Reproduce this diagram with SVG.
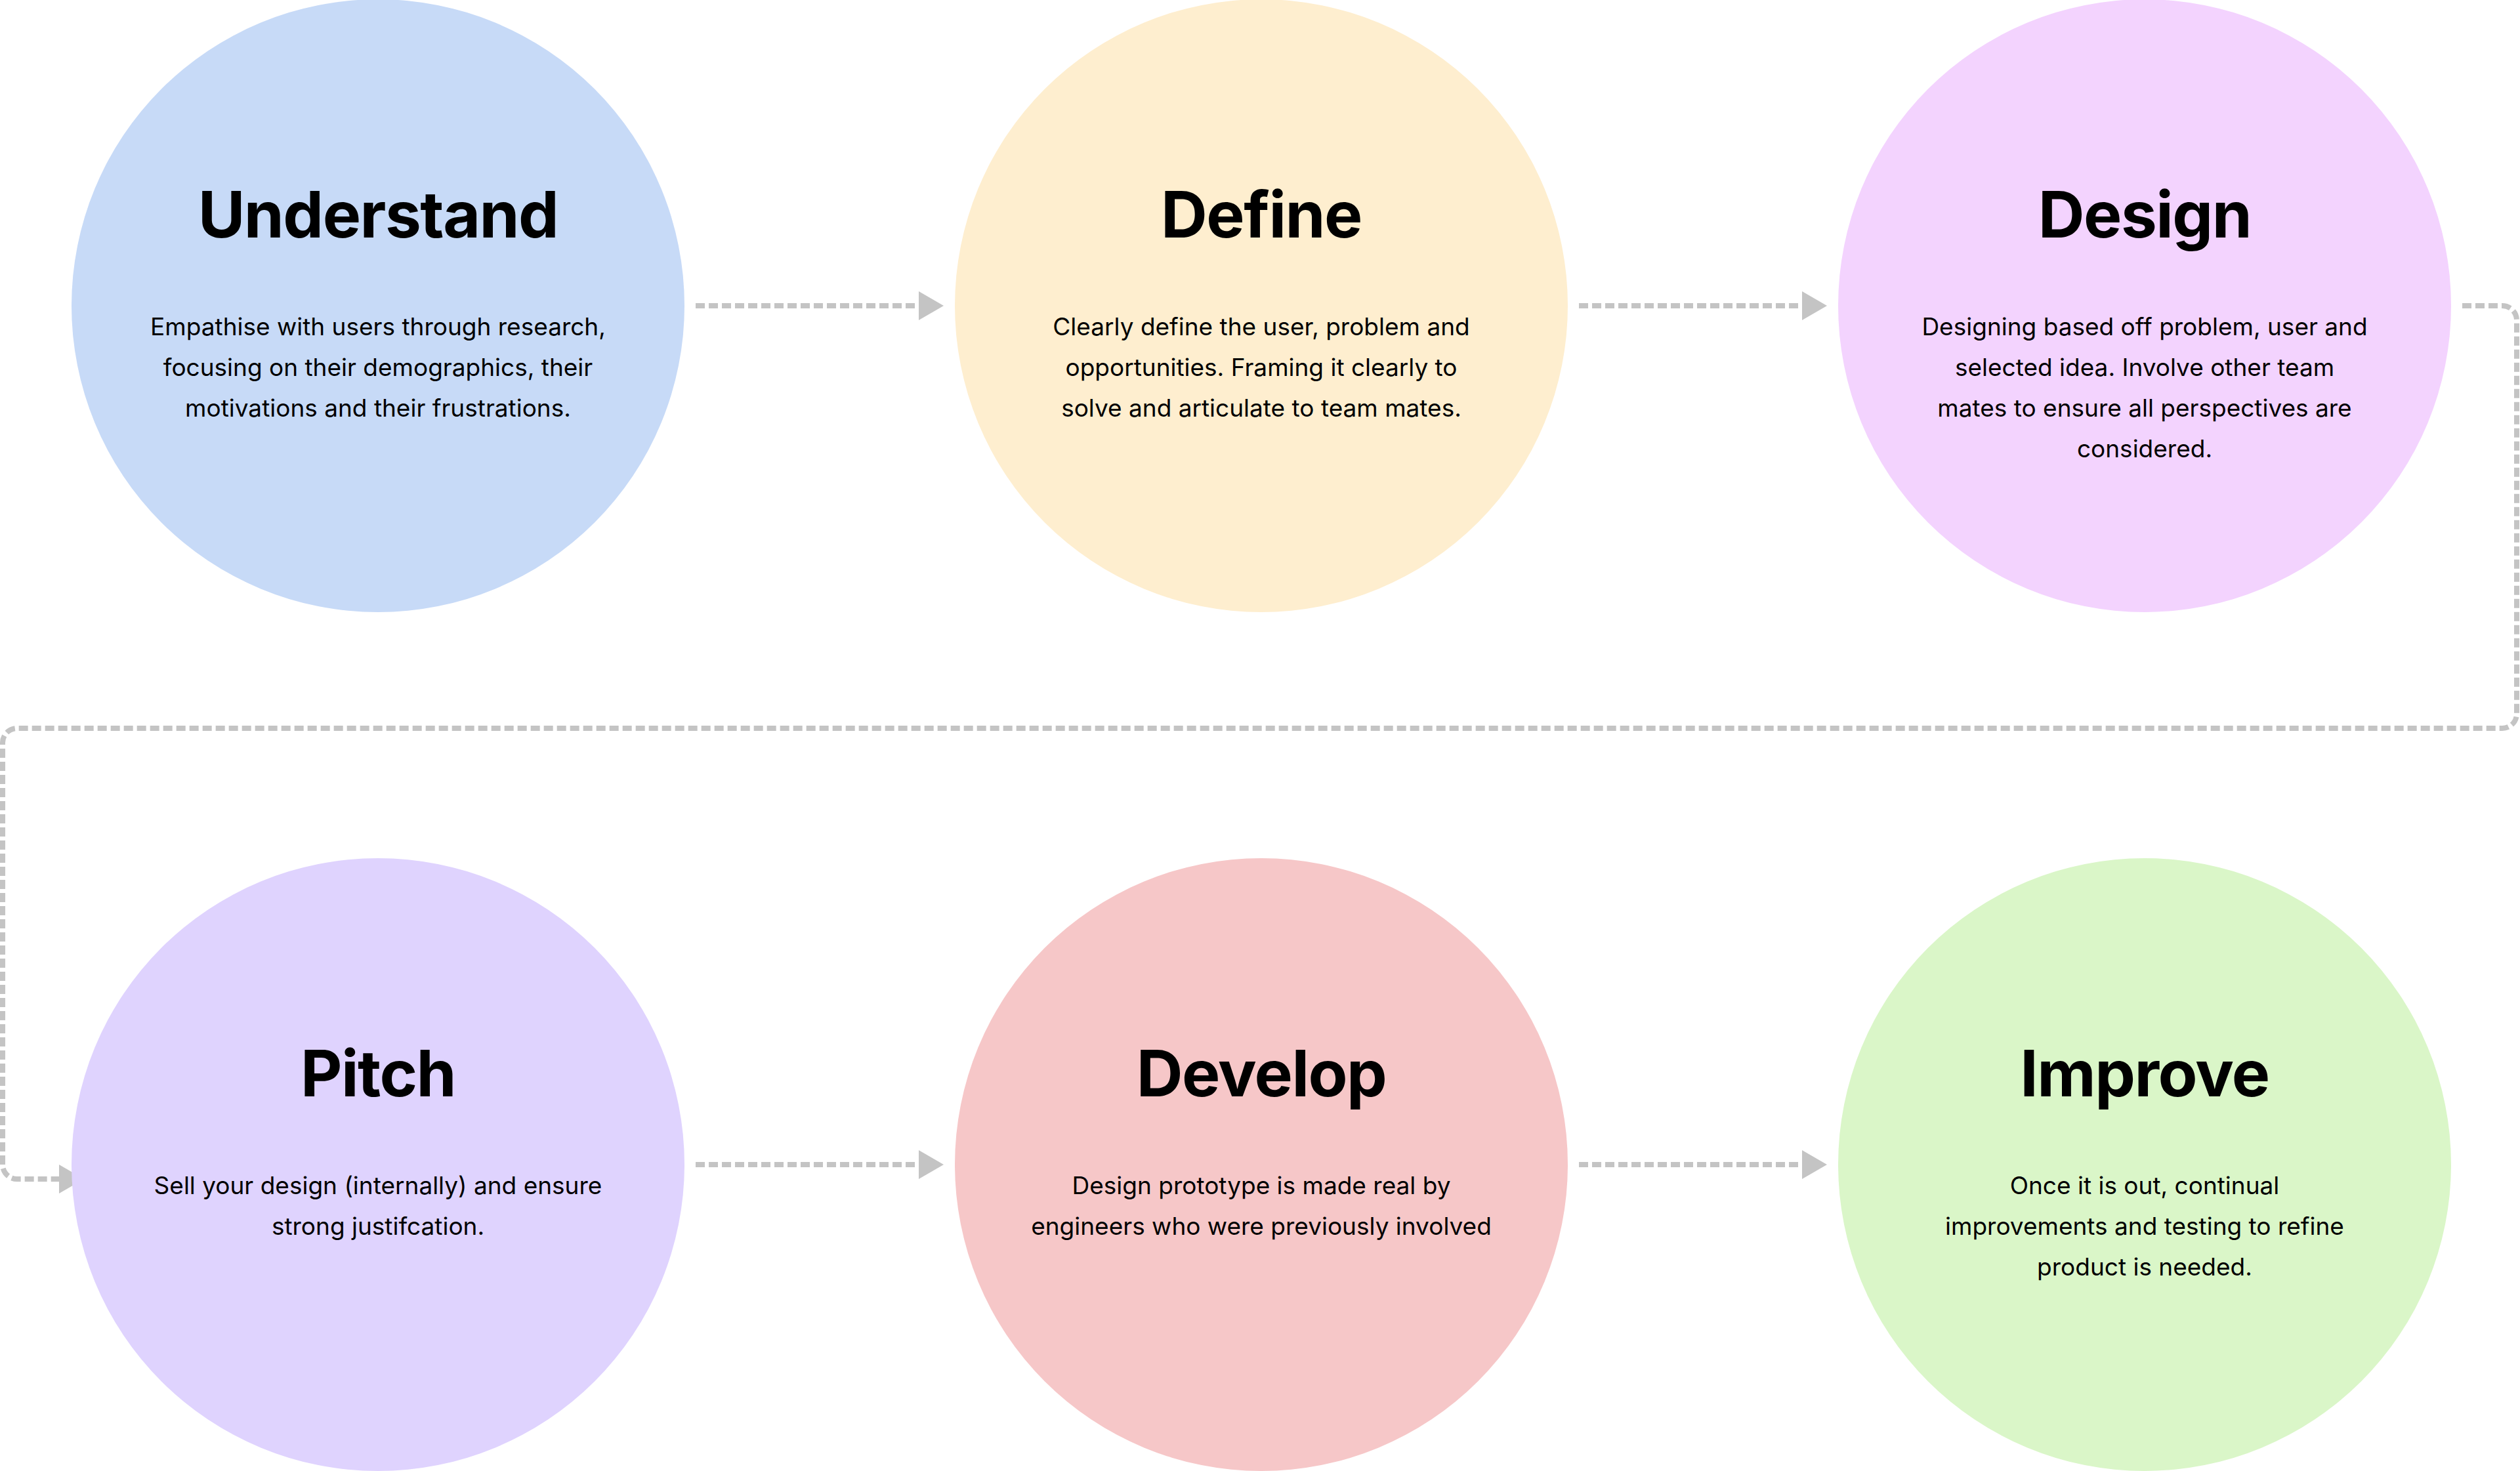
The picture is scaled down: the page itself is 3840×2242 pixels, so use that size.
<svg xmlns="http://www.w3.org/2000/svg" width="3840" height="2242" viewBox="0 0 3840 2242">
<style>
.title{font-family:Inter,"Liberation Sans",sans-serif;font-weight:700;font-size:98px;fill:#000;text-anchor:middle;letter-spacing:-1.5px}
.body{font-family:Inter,"Liberation Sans",sans-serif;font-weight:400;font-size:37px;fill:#000;text-anchor:middle}
.conn{fill:none;stroke:#C4C4C4;stroke-width:8;stroke-dasharray:14 6}
</style>
<defs>
<marker id="arrow" markerUnits="userSpaceOnUse" markerWidth="38" markerHeight="44" refX="0" refY="22" orient="auto">
<path d="M0 0 L38 22 L0 44 Z" fill="#C4C4C4"/>
</marker>
</defs>
<rect width="3840" height="2242" fill="#FFFFFF"/>
<g id="connectors">
<path class="conn" d="M1060 466 H1400" marker-end="url(#arrow)"/>
<path class="conn" d="M2406 466 H2746" marker-end="url(#arrow)"/>
<path class="conn" d="M3752 466 H3813 A22 22 0 0 1 3835 488 V1088 A22 22 0 0 1 3813 1110 H26 A22 22 0 0 0 4 1132 V1775 A22 22 0 0 0 26 1797 H90" marker-end="url(#arrow)"/>
<path class="conn" d="M1060 1775 H1400" marker-end="url(#arrow)"/>
<path class="conn" d="M2406 1775 H2746" marker-end="url(#arrow)"/>
</g>
<g id="understand">
<circle cx="576" cy="466" r="467" fill="#C7DAF7"/>
<text class="title" x="576" y="362">Understand</text>
<text class="body" x="576" y="511">Empathise with users through research,</text>
<text class="body" x="576" y="573">focusing on their demographics, their</text>
<text class="body" x="576" y="635">motivations and their frustrations.</text>
</g>
<g id="define">
<circle cx="1922" cy="466" r="467" fill="#FEEECF"/>
<text class="title" x="1922" y="362">Define</text>
<text class="body" x="1922" y="511">Clearly define the user, problem and</text>
<text class="body" x="1922" y="573">opportunities. Framing it clearly to</text>
<text class="body" x="1922" y="635">solve and articulate to team mates.</text>
</g>
<g id="design">
<circle cx="3268" cy="466" r="467" fill="#F3D3FE"/>
<text class="title" x="3268" y="362">Design</text>
<text class="body" x="3268" y="511">Designing based off problem, user and</text>
<text class="body" x="3268" y="573">selected idea. Involve other team</text>
<text class="body" x="3268" y="635">mates to ensure all perspectives are</text>
<text class="body" x="3268" y="697">considered.</text>
</g>
<g id="pitch">
<circle cx="576" cy="1775" r="467" fill="#DFD3FE"/>
<text class="title" x="576" y="1671">Pitch</text>
<text class="body" x="576" y="1820">Sell your design (internally) and ensure</text>
<text class="body" x="576" y="1882">strong justifcation.</text>
</g>
<g id="develop">
<circle cx="1922" cy="1775" r="467" fill="#F6C7C8"/>
<text class="title" x="1922" y="1671">Develop</text>
<text class="body" x="1922" y="1820">Design prototype is made real by</text>
<text class="body" x="1922" y="1882">engineers who were previously involved</text>
</g>
<g id="improve">
<circle cx="3268" cy="1775" r="467" fill="#DAF6C8"/>
<text class="title" x="3268" y="1671">Improve</text>
<text class="body" x="3268" y="1820">Once it is out, continual</text>
<text class="body" x="3268" y="1882">improvements and testing to refine</text>
<text class="body" x="3268" y="1944">product is needed.</text>
</g>
</svg>
